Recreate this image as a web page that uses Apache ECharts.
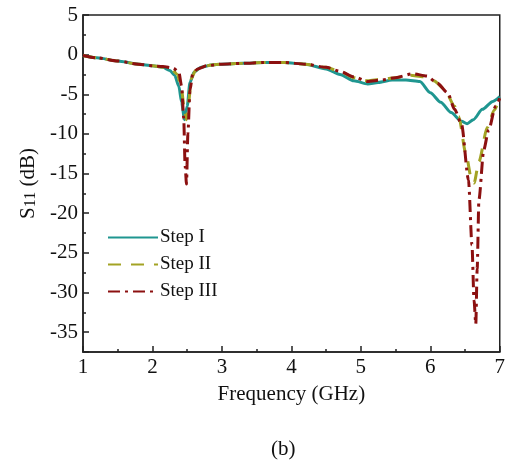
<!DOCTYPE html>
<html>
<head>
<meta charset="utf-8">
<script src="https://cdn.jsdelivr.net/npm/echarts@6/dist/echarts.min.js"></script>
<style>html,body{margin:0;padding:0;background:#fff;}#c{width:508px;height:460px;}</style>
</head>
<body>
<div id="c"></div>
<script>
const seriesNames = ['Step I', 'Step II', 'Step III'];

const freqStep1 = [1.0,1.2,1.5,1.8,2.0,2.15,2.25,2.32,2.38,2.42,2.46,2.5,2.54,2.6,2.7,2.85,3.0,3.3,3.6,3.9,4.2,4.5,4.7,4.9,5.1,5.25,5.45,5.65,5.85,6.0,6.15,6.3,6.45,6.53,6.62,6.75,6.9,7.0];
const s11Step1 = [-0.1,-0.4,-0.8,-1.2,-1.4,-1.6,-2.0,-2.6,-4.0,-6.0,-8.2,-6.5,-3.5,-2.2,-1.6,-1.3,-1.2,-1.1,-1.0,-1.0,-1.2,-1.8,-2.5,-3.3,-3.7,-3.5,-3.2,-3.2,-3.4,-4.8,-6.0,-7.3,-8.4,-8.7,-8.2,-6.9,-5.9,-5.3];

const freqStep2 = [1.0,1.2,1.5,1.8,2.0,2.15,2.28,2.36,2.42,2.46,2.49,2.52,2.56,2.62,2.7,2.85,3.0,3.3,3.6,3.9,4.2,4.5,4.7,4.9,5.1,5.3,5.5,5.7,5.9,6.05,6.2,6.35,6.41,6.51,6.6,6.63,6.7,6.82,6.92,7.0];
const s11Step2 = [-0.1,-0.4,-0.8,-1.2,-1.4,-1.6,-1.9,-2.5,-4.5,-7.0,-8.2,-6.0,-3.0,-2.0,-1.6,-1.3,-1.2,-1.1,-1.0,-1.0,-1.2,-1.6,-2.1,-2.9,-3.3,-3.1,-2.9,-2.6,-2.8,-3.3,-4.3,-6.5,-7.8,-12.4,-16.0,-16.2,-13.5,-9.2,-7.0,-5.4];

const freqStep3 = [1.0,1.2,1.5,1.8,2.0,2.15,2.3,2.38,2.42,2.45,2.47,2.49,2.51,2.54,2.58,2.65,2.78,3.0,3.3,3.6,3.9,4.2,4.5,4.7,4.9,5.1,5.3,5.5,5.75,5.95,6.1,6.25,6.35,6.45,6.55,6.6,6.63,6.655,6.675,6.7,6.77,6.84,6.94,7.0];
const s11Step3 = [-0.1,-0.4,-0.8,-1.2,-1.4,-1.5,-1.7,-2.2,-4.0,-8.0,-14.0,-16.3,-10.0,-4.5,-2.4,-1.8,-1.4,-1.2,-1.1,-1.0,-1.0,-1.2,-1.6,-2.1,-2.8,-3.4,-3.2,-2.9,-2.4,-2.7,-3.6,-4.8,-6.9,-8.8,-15.8,-24.0,-31.0,-34.0,-27.0,-18.3,-12.0,-9.5,-6.5,-5.5];

const xTicks = {min: 1, max: 7, interval: 1};
const yTicks = {min: -37.5, max: 5, interval: 2.5, labelStep: 5};

function pairs(xs, ys) { return xs.map((x, i) => [x, ys[i]]); }

const FONT = 'Liberation Serif';
const chart = echarts.init(document.getElementById('c'), null, {renderer: 'canvas'});
chart.setOption({
  backgroundColor: '#fff',
  animation: false,
  title: {
    text: '(b)', left: 266, top: 434,
    textStyle: {fontFamily: FONT, fontSize: 21, fontWeight: 'normal', color: '#111'}
  },
  grid: {left: 83, right: 7, top: 15, bottom: 108, show: true, borderColor: '#222', borderWidth: 1.5, backgroundColor: 'transparent'},
  legend: {
    orient: 'vertical', left: 102, top: 223,
    itemWidth: 50, itemHeight: 12, itemGap: 8,
    data: seriesNames,
    itemStyle: {opacity: 0},
    textStyle: {fontFamily: FONT, fontSize: 19, color: '#111', padding: [0,0,0,-3]}
  },
  xAxis: {
    type: 'value', min: xTicks.min, max: xTicks.max, interval: xTicks.interval,
    name: 'Frequency (GHz)', nameLocation: 'middle', nameGap: 32,
    nameTextStyle: {fontFamily: FONT, fontSize: 21, color: '#111'},
    axisLine: {show: true, onZero: false, lineStyle: {color: '#222', width: 1.5}},
    axisTick: {show: true, inside: true, length: 6, lineStyle: {color: '#222', width: 1.5}},
    minorTick: {show: true, splitNumber: 2, length: 3, lineStyle: {color: '#222', width: 1.5}},
    splitLine: {show: false},
    axisLabel: {fontFamily: FONT, fontSize: 21, color: '#111', margin: 5}
  },
  yAxis: [{
    type: 'value', min: yTicks.min, max: yTicks.max, interval: yTicks.interval,
    name: 'S{sub|11} (dB)', nameLocation: 'middle', nameGap: 41, nameRotate: 90,
    nameTextStyle: {fontFamily: FONT, fontSize: 21, color: '#111',
      rich: {sub: {fontFamily: FONT, fontSize: 16, color: '#111', verticalAlign: 'bottom', padding: [6,0,0,0]}}},
    axisLine: {show: true, onZero: false, lineStyle: {color: '#222', width: 1.5}},
    axisTick: {show: true, inside: true, length: 3, lineStyle: {color: '#222', width: 1.5}},
    splitLine: {show: false},
    axisLabel: {fontFamily: FONT, fontSize: 21, color: '#111', margin: 5,
      formatter: v => (Math.abs(v % yTicks.labelStep) < 1e-6 ? String(v) : '')}
  }, {
    type: 'value', min: yTicks.min, max: yTicks.max, splitNumber: 8, position: 'left',
    axisLine: {show: false, onZero: false},
    axisTick: {show: true, inside: true, length: 6, lineStyle: {color: '#222', width: 1.5}},
    splitLine: {show: false},
    axisLabel: {show: false}
  }],
  series: [
    {name: seriesNames[0], type: 'line', data: pairs(freqStep1, s11Step1), symbol: 'none',
     smooth: 0.25, smoothMonotone: 'x', color: '#1f9690', lineStyle: {width: 3, color: '#1f9690', type: 'solid'}, z: 3},
    {name: seriesNames[1], type: 'line', data: pairs(freqStep2, s11Step2), symbol: 'none',
     smooth: 0.25, smoothMonotone: 'x', color: '#a3a324', lineStyle: {width: 3, color: '#a3a324', type: [13, 10]}, z: 4},
    {name: seriesNames[2], type: 'line', data: pairs(freqStep3, s11Step3), symbol: 'none',
     smooth: 0.25, smoothMonotone: 'x', color: '#8c1010', lineStyle: {width: 3, color: '#8c1010', type: [12, 5, 3, 5]}, z: 5}
  ]
});
</script>
</body>
</html>
